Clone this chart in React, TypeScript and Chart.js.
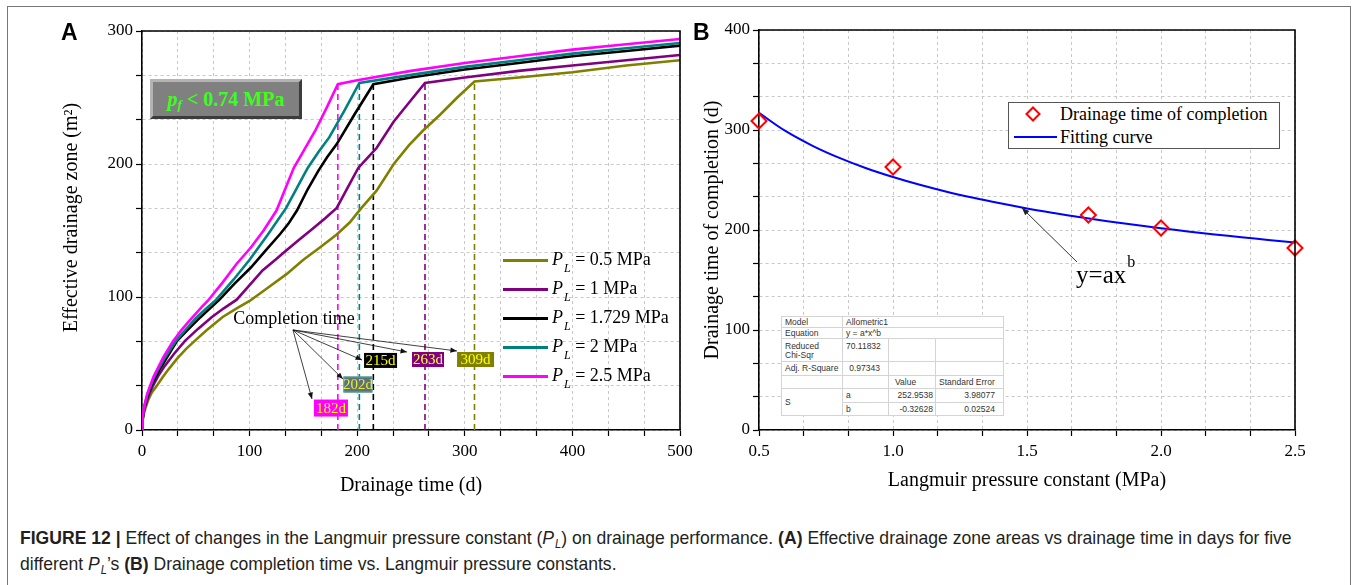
import React, { useEffect, useRef } from 'react';
import { Chart, registerables } from 'chart.js';

Chart.register(...registerables);

const SERIF = '"Liberation Serif", "Times New Roman", Times, serif';
const SANS = '"Liberation Sans", Arial, Helvetica, sans-serif';

// ---------------- Panel A: effective drainage zone vs drainage time ----------------
const daysPL05 = [0, 0.5, 1.5, 3, 6, 9, 13.6, 19, 25, 33, 41, 49, 60, 75, 88, 100, 117, 134, 150, 165, 181, 193, 204, 218, 234, 248, 261, 277, 293, 309, 350, 400, 450, 500];
const areaPL05 = [0, 6.5, 11.5, 16, 23, 28, 33, 39.5, 46, 54, 61, 67, 75, 85, 91.5, 97, 107, 117, 128, 137, 147, 156, 167, 180, 200, 214, 225, 237, 250, 262, 265, 269, 274, 278];

const daysPL1 = [0, 0.5, 1.5, 3, 6, 10, 15, 21, 30, 40, 52, 65, 76, 88, 100, 112, 124, 134, 146, 158, 170, 181, 191, 201, 210, 218, 234, 249, 263, 300, 350, 400, 450, 500];
const areaPL1 = [0, 7.5, 13, 18, 25.5, 33, 40.5, 48, 57.5, 67, 76, 85, 91.5, 98, 109, 120, 128, 135, 143, 151, 159, 167, 182, 197, 205, 212, 232, 247, 261, 265, 270, 274, 278, 282];

const daysPL1729 = [0, 0.5, 1.5, 3, 5, 8.5, 12, 16, 22, 32.6, 42, 52, 62, 72, 86, 101, 115, 128, 136, 144, 154, 164, 172, 181, 198, 215, 250, 300, 350, 400, 450, 500];
const areaPL1729 = [0, 8, 14, 19.5, 25, 33, 39, 45, 53, 67, 75, 83, 90.5, 98, 110, 122, 135, 147, 155, 165, 181, 195, 205, 215, 238, 260, 265, 271, 276, 281, 285, 289];

const daysPL2 = [0, 0.5, 1.5, 3, 5, 8, 11, 15, 21, 31.5, 40, 50, 60, 69, 85, 100, 117, 134, 144, 154, 164, 174, 188, 202, 250, 300, 350, 400, 450, 500];
const areaPL2 = [0, 8.5, 14.5, 20.5, 26.5, 33, 39, 45.5, 54, 67, 75, 84, 91.5, 98, 113, 128, 147, 167, 182, 197, 209, 220, 240, 261, 267, 273, 278, 283, 287, 291];

const daysPL25 = [0, 0.5, 1.5, 3, 5, 7.4, 11, 15, 20, 29, 37, 45, 55, 61, 75, 88, 101, 113, 125, 133, 141, 151, 161, 172, 182, 200, 250, 300, 350, 400, 450, 500];
const areaPL25 = [0, 9, 15, 21, 27.5, 33, 40.5, 47, 55, 67, 75.5, 83, 92, 97, 111, 125, 137, 150, 165, 181, 197, 211, 225, 243, 260, 263, 270, 276, 281, 286, 290, 294];

const seriesNames = ['0.5', '1', '1.729', '2', '2.5'];
const seriesColors = ['#808000', '#800080', '#000000', '#008080', '#ff00ff'];
const seriesDays = [daysPL05, daysPL1, daysPL1729, daysPL2, daysPL25];
const seriesArea = [areaPL05, areaPL1, areaPL1729, areaPL2, areaPL25];

const completionDays = [309, 263, 215, 202, 182];
const completionArea = [262, 261, 260, 261, 260];
const completionLabels = ['309d', '263d', '215d', '202d', '182d'];

const timeGridTicks = [0, 33.333, 66.667, 100, 133.333, 166.667, 200, 233.333, 266.667, 300, 333.333, 366.667, 400, 433.333, 466.667, 500];
const timeLabelTicks = [0, 100, 200, 300, 400, 500];
const areaGridTicks = [0, 33.333, 66.667, 100, 133.333, 166.667, 200, 233.333, 266.667, 300];
const areaLabelTicks = [0, 100, 200, 300];

// ---------------- Panel B: completion time vs Langmuir pressure constant ----------------
const pressureMPa = [0.5, 1.0, 1.729, 2.0, 2.5];
const completionTimeDays = [309, 263, 215, 202, 182];
const fitPressure = [0.5, 0.6, 0.7, 0.8, 0.9, 1.0, 1.1, 1.2, 1.3, 1.4, 1.5, 1.6, 1.7, 1.8, 1.9, 2.0, 2.1, 2.2, 2.3, 2.4, 2.5];
const fitTime = [317.2, 298.8, 284.2, 272.1, 261.8, 253.0, 245.2, 238.3, 232.2, 226.7, 221.6, 217.0, 212.7, 208.8, 205.2, 201.8, 198.6, 195.6, 192.8, 190.1, 187.6];

const pressureGridTicks = [0.5, 0.6667, 0.8333, 1.0, 1.1667, 1.3333, 1.5, 1.6667, 1.8333, 2.0, 2.1667, 2.3333, 2.5];
const pressureLabelTicks = [0.5, 1.0, 1.5, 2.0, 2.5];
const timeBGridTicks = [0, 33.333, 66.667, 100, 133.333, 166.667, 200, 233.333, 266.667, 300, 333.333, 366.667, 400];
const timeBLabelTicks = [0, 100, 200, 300, 400];

const fitTable = [
  ['Model', 'Allometric1'],
  ['Equation', 'y = a*x^b'],
  ['Reduced Chi-Sqr', '70.11832'],
  ['Adj. R-Square', '0.97343'],
  ['a', '252.9538', '3.98077'],
  ['b', '-0.32628', '0.02524'],
];

function isMajor(v: number, majors: number[]) {
  return majors.some((m) => Math.abs(m - v) < 1e-3);
}

function drawArrow(ctx: CanvasRenderingContext2D, x1: number, y1: number, x2: number, y2: number, head: number) {
  ctx.beginPath();
  ctx.moveTo(x1, y1);
  ctx.lineTo(x2, y2);
  ctx.stroke();
  const a = Math.atan2(y2 - y1, x2 - x1);
  ctx.beginPath();
  ctx.moveTo(x2, y2);
  ctx.lineTo(x2 - head * Math.cos(a - 0.38), y2 - head * Math.sin(a - 0.38));
  ctx.lineTo(x2 - head * Math.cos(a + 0.38), y2 - head * Math.sin(a + 0.38));
  ctx.closePath();
  ctx.fill();
}

// annotation placement (data units) for the completion tags, in completionLabels order
const TAGS = [
  { cx: 310, cy: 53, w: 37, h: 15, fill: '#808000', stroke: '', text: '#ffff00', tipT: 292.7, tipV: 59.4 },
  { cx: 265.8, cy: 53, w: 32, h: 15, fill: '#800080', stroke: '', text: '#ffff40', tipT: 246.3, tipV: 58.6 },
  { cx: 221.7, cy: 52.3, w: 33, h: 15, fill: '#000000', stroke: '', text: '#ffff00', tipT: 204.5, tipV: 52.6 },
  { cx: 200.7, cy: 34.2, w: 29, h: 16, fill: '#5f7373', stroke: '#40b0b0', text: '#e8e840', tipT: 186.8, tipV: 38.3 },
  { cx: 175.6, cy: 16.5, w: 34, h: 17, fill: '#ff00ff', stroke: '', text: '#ffff00', tipT: 158, tipV: 23.3 },
];

const panelAPlugin = {
  id: 'panelADecor',
  afterDraw(chart: any) {
    const { ctx, chartArea: ca, scales } = chart;
    const xs = scales.x;
    const ys = scales.y;
    ctx.save();
    ctx.strokeStyle = '#000';
    ctx.lineWidth = 1.6;
    ctx.beginPath();
    ctx.moveTo(ca.left, ca.top);
    ctx.lineTo(ca.right, ca.top);
    ctx.lineTo(ca.right, ca.bottom);
    ctx.stroke();

    // y axis title
    ctx.save();
    ctx.translate(ca.left - 70, (ca.top + ca.bottom) / 2 - 13);
    ctx.rotate(-Math.PI / 2);
    ctx.font = `20px ${SERIF}`;
    ctx.fillStyle = '#000';
    ctx.textAlign = 'center';
    ctx.textBaseline = 'middle';
    ctx.fillText('Effective drainage zone (m\u00B2)', 0, 0);
    ctx.restore();

    // completion time annotation
    ctx.font = `18px ${SERIF}`;
    ctx.fillStyle = '#000';
    ctx.textAlign = 'center';
    ctx.textBaseline = 'middle';
    ctx.fillText('Completion time', xs.getPixelForValue(141.3), ys.getPixelForValue(83.5));
    const ox = xs.getPixelForValue(140.3);
    const oy = ys.getPixelForValue(75.2);
    ctx.strokeStyle = '#111';
    ctx.fillStyle = '#111';
    ctx.lineWidth = 0.8;
    TAGS.forEach((t) => drawArrow(ctx, ox, oy, xs.getPixelForValue(t.tipT), ys.getPixelForValue(t.tipV), 7));

    ctx.font = `15px ${SERIF}`;
    TAGS.forEach((t, i) => {
      const cx = xs.getPixelForValue(t.cx);
      const cy = ys.getPixelForValue(t.cy);
      ctx.fillStyle = t.fill;
      ctx.fillRect(cx - t.w / 2, cy - t.h / 2, t.w, t.h);
      if (t.stroke) {
        ctx.strokeStyle = t.stroke;
        ctx.lineWidth = 1;
        ctx.strokeRect(cx - t.w / 2 + 0.5, cy - t.h / 2 + 0.5, t.w - 1, t.h - 1);
      }
      ctx.fillStyle = t.text;
      ctx.fillText(completionLabels[i], cx, cy + 1);
    });
    ctx.restore();
  },
};

const panelBPlugin = {
  id: 'panelBDecor',
  afterDraw(chart: any) {
    const { ctx, chartArea: ca, scales } = chart;
    const xs = scales.x;
    const ys = scales.y;
    ctx.save();
    ctx.strokeStyle = '#000';
    ctx.lineWidth = 1.6;
    ctx.beginPath();
    ctx.moveTo(ca.left, ca.top);
    ctx.lineTo(ca.right, ca.top);
    ctx.lineTo(ca.right, ca.bottom);
    ctx.stroke();

    const px = xs.getPixelForValue(1.683);
    const py = ys.getPixelForValue(147);
    ctx.fillStyle = '#000';
    ctx.textAlign = 'left';
    ctx.textBaseline = 'alphabetic';
    ctx.font = `25px ${SERIF}`;
    ctx.fillText('y=ax', px, py);
    const w = ctx.measureText('y=ax').width;
    ctx.font = `16px ${SERIF}`;
    ctx.fillText('b', px + w + 1, py - 16);

    ctx.strokeStyle = '#333';
    ctx.fillStyle = '#222';
    ctx.lineWidth = 1;
    drawArrow(ctx, xs.getPixelForValue(1.6866), ys.getPixelForValue(168), xs.getPixelForValue(1.4813), ys.getPixelForValue(222), 8);
    ctx.restore();
  },
};

function axisStyle(gridTicks: number[], labelTicks: number[], fmt: (v: number) => string, fixedSize: number, horizontal: boolean) {
  return {
    type: 'linear',
    afterBuildTicks: (s: any) => {
      s.ticks = gridTicks.map((v) => ({ value: v }));
    },
    afterFit: (s: any) => {
      if (horizontal) s.height = fixedSize;
      else s.width = fixedSize;
    },
    ticks: {
      autoSkip: false,
      maxRotation: 0,
      padding: horizontal ? 5 : 3,
      color: '#000',
      font: { family: SERIF, size: 17 },
      callback: (v: any) => (isMajor(Number(v), labelTicks) ? fmt(Number(v)) : ''),
    },
    grid: {
      color: '#c8c8c8',
      lineWidth: 1,
      drawTicks: true,
      tickLength: 6,
      tickColor: '#000',
      tickWidth: 1.2,
      borderDash: [3, 3],
    },
    border: { display: true, color: '#000', width: 1.6, dash: [3, 3] },
  };
}

function configA(): any {
  const lines = seriesNames.map((name, i) => ({
    label: `PL = ${name} MPa`,
    data: seriesDays[i].map((d, j) => ({ x: d, y: seriesArea[i][j] })),
    borderColor: seriesColors[i],
    backgroundColor: seriesColors[i],
    borderWidth: 2.6,
    pointRadius: 0,
    tension: 0,
    fill: false,
  }));
  const order = [4, 3, 2, 1, 0];
  const orderedLines = order.map((i) => lines[i]);
  const markers = completionDays.map((d, i) => ({
    label: completionLabels[i],
    data: [
      { x: d, y: 0 },
      { x: d, y: completionArea[i] },
    ],
    borderColor: seriesColors[i],
    borderWidth: 1.6,
    borderDash: [6, 4],
    pointRadius: 0,
    tension: 0,
    fill: false,
  }));
  return {
    type: 'line',
    data: { datasets: [...orderedLines, ...markers] },
    options: {
      animation: false,
      responsive: false,
      maintainAspectRatio: false,
      layout: { padding: { left: 0, top: 31, right: 20, bottom: 0 } },
      plugins: { legend: { display: false }, tooltip: { enabled: false } },
      scales: {
        x: {
          ...axisStyle(timeGridTicks, timeLabelTicks, (v) => String(Math.round(v)), 70, true),
          min: 0,
          max: 500,
          title: {
            display: true,
            text: 'Drainage time (d)',
            color: '#000',
            font: { family: SERIF, size: 20 },
            padding: { top: 0, bottom: 2 },
          },
        },
        y: {
          ...axisStyle(areaGridTicks, areaLabelTicks, (v) => String(Math.round(v)), 142, false),
          min: 0,
          max: 300,
        },
      },
    },
    plugins: [panelAPlugin],
  };
}

function configB(): any {
  return {
    type: 'line',
    data: {
      datasets: [
        {
          label: 'Drainage time of completion',
          data: pressureMPa.map((p, i) => ({ x: p, y: completionTimeDays[i] })),
          showLine: false,
          pointStyle: 'rectRot',
          pointRadius: 7.5,
          pointBorderWidth: 2,
          pointBorderColor: '#ff0000',
          pointBackgroundColor: 'rgba(255,255,255,0)',
          borderColor: '#ff0000',
          clip: false,
        },
        {
          label: 'Fitting curve',
          data: fitPressure.map((p, i) => ({ x: p, y: fitTime[i] })),
          borderColor: '#0000ff',
          borderWidth: 2,
          pointRadius: 0,
          tension: 0.4,
          fill: false,
        },
      ],
    },
    options: {
      animation: false,
      responsive: false,
      maintainAspectRatio: false,
      layout: { padding: { left: 0, top: 30, right: 25, bottom: 0 } },
      plugins: { legend: { display: false }, tooltip: { enabled: false } },
      scales: {
        x: {
          ...axisStyle(pressureGridTicks, pressureLabelTicks, (v) => v.toFixed(1), 70, true),
          min: 0.5,
          max: 2.5,
          title: {
            display: true,
            text: 'Langmuir pressure constant (MPa)',
            color: '#000',
            font: { family: SERIF, size: 20 },
            padding: { top: 0, bottom: 7 },
          },
        },
        y: {
          ...axisStyle(timeBGridTicks, timeBLabelTicks, (v) => String(Math.round(v)), 69, false),
          min: 0,
          max: 400,
          title: {
            display: true,
            text: 'Drainage time of completion (d)',
            color: '#000',
            font: { family: SERIF, size: 20 },
            padding: { top: 11, bottom: 0 },
          },
        },
      },
    },
    plugins: [panelBPlugin],
  };
}

const PL = ({ size = 18, sub = 12, drop = 7 }: { size?: number; sub?: number; drop?: number }) => (
  <span>
    <span style={{ fontStyle: 'italic', fontSize: size }}>P</span>
    <span style={{ fontStyle: 'italic', fontSize: sub, position: 'relative', top: drop, marginLeft: 1 }}>L</span>
  </span>
);

const cell: React.CSSProperties = {
  border: '1px solid #d4d4d4',
  padding: '0 3px',
  lineHeight: '9px',
  verticalAlign: 'middle',
  overflow: 'hidden',
  whiteSpace: 'nowrap',
};

export default function App() {
  const refA = useRef<HTMLCanvasElement>(null);
  const refB = useRef<HTMLCanvasElement>(null);

  useEffect(() => {
    const a = new Chart(refA.current as HTMLCanvasElement, configA());
    const b = new Chart(refB.current as HTMLCanvasElement, configB());
    return () => {
      a.destroy();
      b.destroy();
    };
  }, []);

  return (
    <div style={{ position: 'fixed', left: 0, top: 0, width: 1356, height: 585, overflow: 'hidden', background: '#fff' }}>
      <div style={{ position: 'absolute', left: 7, top: 6, width: 1344, height: 700, border: '1px solid #777', boxSizing: 'border-box' }} />
      <canvas ref={refA} width={700} height={500} style={{ position: 'absolute', left: 0, top: 0, width: 700, height: 500 }} />
      <canvas ref={refB} width={630} height={500} style={{ position: 'absolute', left: 690, top: 0, width: 630, height: 500 }} />

      <div style={{ position: 'absolute', left: 61, top: 19, fontFamily: SANS, fontWeight: 'bold', fontSize: 23, lineHeight: '26px' }}>A</div>
      <div style={{ position: 'absolute', left: 693, top: 19, fontFamily: SANS, fontWeight: 'bold', fontSize: 23, lineHeight: '26px' }}>B</div>

      {/* p_f box */}
      <div
        style={{
          position: 'absolute',
          left: 150,
          top: 79,
          width: 152,
          height: 40,
          boxSizing: 'border-box',
          background: '#808080',
          borderStyle: 'solid',
          borderWidth: 3,
          borderColor: '#b4b4b4 #3c3c3c #3c3c3c #b4b4b4',
          display: 'flex',
          alignItems: 'center',
          justifyContent: 'center',
          fontFamily: SERIF,
          fontWeight: 'bold',
          fontSize: 20,
          color: '#3cff1e',
          whiteSpace: 'nowrap',
        }}
      >
        <span style={{ fontStyle: 'italic' }}>p</span>
        <span style={{ fontStyle: 'italic', fontSize: 13, position: 'relative', top: 6 }}>f</span>
        <span>&nbsp;&lt; 0.74 MPa</span>
      </div>

      {/* legend A */}
      {seriesNames.map((name, i) => (
        <div
          key={name}
          style={{ position: 'absolute', left: 503, top: 260 + i * 29 - 11, height: 22, display: 'flex', alignItems: 'center', whiteSpace: 'nowrap' }}
        >
          <div style={{ width: 45, height: 3, background: seriesColors[i], marginRight: 4 }} />
          <span style={{ fontFamily: SERIF, fontSize: 18, lineHeight: '22px', color: '#000' }}>
            <PL />
            {` = ${name} MPa`}
          </span>
        </div>
      ))}

      {/* legend B */}
      <div style={{ position: 'absolute', left: 1008, top: 102, width: 272, height: 47, border: '1px solid #555', background: '#fff', boxSizing: 'border-box' }}>
        <svg style={{ position: 'absolute', left: 16, top: 3 }} width={16} height={16}>
          <polygon points="8,1.5 14.5,8 8,14.5 1.5,8" fill="none" stroke="#ff0000" strokeWidth={2} />
        </svg>
        <div style={{ position: 'absolute', left: 51, top: 0, fontFamily: SERIF, fontSize: 18, lineHeight: '22px', whiteSpace: 'nowrap' }}>
          Drainage time of completion
        </div>
        <div style={{ position: 'absolute', left: 5, top: 33, width: 43, height: 2, background: '#0000ff' }} />
        <div style={{ position: 'absolute', left: 51, top: 23, fontFamily: SERIF, fontSize: 18, lineHeight: '22px', whiteSpace: 'nowrap' }}>
          Fitting curve
        </div>
      </div>

      {/* fit statistics table */}
      <table
        style={{
          position: 'absolute',
          left: 781,
          top: 316,
          width: 222,
          height: 99,
          borderCollapse: 'collapse',
          tableLayout: 'fixed',
          background: '#fff',
          fontFamily: SANS,
          fontSize: 8.5,
          color: '#333',
          border: '1px solid #9a9a9a',
        }}
      >
        <colgroup>
          <col style={{ width: 61 }} />
          <col style={{ width: 46 }} />
          <col style={{ width: 47 }} />
          <col style={{ width: 68 }} />
        </colgroup>
        <tbody>
          <tr style={{ height: 11 }}>
            <td style={cell}>{fitTable[0][0]}</td>
            <td style={cell} colSpan={3}>{fitTable[0][1]}</td>
          </tr>
          <tr style={{ height: 11 }}>
            <td style={cell}>{fitTable[1][0]}</td>
            <td style={cell} colSpan={3}>{fitTable[1][1]}</td>
          </tr>
          <tr style={{ height: 23 }}>
            <td style={{ ...cell, whiteSpace: 'normal', verticalAlign: 'top', paddingTop: 3 }}>
              Reduced
              <br />
              Chi-Sqr
            </td>
            <td style={{ ...cell, textAlign: 'right', paddingRight: 8, verticalAlign: 'top', paddingTop: 3 }}>{fitTable[2][1]}</td>
            <td style={cell}></td>
            <td style={cell}></td>
          </tr>
          <tr style={{ height: 14 }}>
            <td style={cell}>{fitTable[3][0]}</td>
            <td style={{ ...cell, textAlign: 'right', paddingRight: 8 }}>{fitTable[3][1]}</td>
            <td style={cell}></td>
            <td style={cell}></td>
          </tr>
          <tr style={{ height: 13 }}>
            <td style={cell}></td>
            <td style={cell}></td>
            <td style={{ ...cell, paddingLeft: 6 }}>Value</td>
            <td style={cell}>Standard Error</td>
          </tr>
          <tr style={{ height: 14 }}>
            <td style={cell} rowSpan={2}>S</td>
            <td style={cell}>{fitTable[4][0]}</td>
            <td style={{ ...cell, textAlign: 'right', paddingRight: 2 }}>{fitTable[4][1]}</td>
            <td style={{ ...cell, textAlign: 'right', paddingRight: 8 }}>{fitTable[4][2]}</td>
          </tr>
          <tr style={{ height: 13 }}>
            <td style={cell}>{fitTable[5][0]}</td>
            <td style={{ ...cell, textAlign: 'right', paddingRight: 2 }}>{fitTable[5][1]}</td>
            <td style={{ ...cell, textAlign: 'right', paddingRight: 8 }}>{fitTable[5][2]}</td>
          </tr>
        </tbody>
      </table>

      {/* caption */}
      <div
        style={{
          position: 'absolute',
          left: 20,
          top: 526,
          fontFamily: SANS,
          fontSize: 19,
          lineHeight: '24px',
          color: '#231f20',
          whiteSpace: 'nowrap',
          transform: 'scaleX(0.925)',
          transformOrigin: 'left top',
        }}
      >
        <b>FIGURE 12 |</b> Effect of changes in the Langmuir pressure constant (<PL size={19} sub={12} drop={4} />) on drainage performance.{' '}
        <b>(A)</b> Effective drainage zone areas vs drainage time in days for five
        <br />
        different <PL size={19} sub={12} drop={4} />’s <b>(B)</b> Drainage completion time vs. Langmuir pressure constants.
      </div>
    </div>
  );
}
